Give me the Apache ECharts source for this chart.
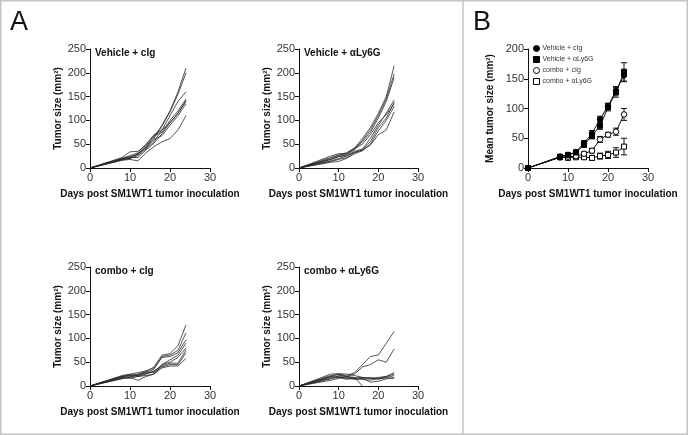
<!DOCTYPE html>
<html>
<head>
<meta charset="utf-8">
<script src="https://cdn.jsdelivr.net/npm/echarts@6/dist/echarts.min.js"></script>
<style>html,body{margin:0;padding:0;background:#fff;}#c{width:688px;height:435px;}</style>
</head>
<body>
<div id="c"></div>
<script>
// ---- data ----
const days = [0, 8, 10, 12, 14, 16, 18, 20, 22, 24];
const xTicks = [0, 10, 20, 30];
const yTicksA = [0, 50, 100, 150, 200, 250];
const yTicksB = [0, 50, 100, 150, 200];
const groupNames = ['Vehicle + cIg', 'Vehicle + \u03b1Ly6G', 'combo + cIg', 'combo + \u03b1Ly6G'];

// individual mice per group (tumor size, mm2)
const vehicleCig = [
  [0,18,22,30,45,65,90,120,160,210],
  [0,20,24,28,44,62,88,118,155,200],
  [0,17,20,26,40,55,80,110,140,160],
  [0,22,34,35,48,68,75,100,120,145],
  [0,19,22,22,38,52,72,95,115,140],
  [0,18,20,30,42,60,68,90,110,135],
  [0,16,18,15,32,45,55,62,80,110],
  [0,20,26,32,50,70,80,95,115,142]
];
const vehicleAly = [
  [0,22,28,32,42,62,85,115,150,215],
  [0,20,26,30,40,58,80,110,145,198],
  [0,18,24,28,38,55,75,105,140,190],
  [0,15,20,25,35,40,62,90,115,143],
  [0,18,24,26,33,38,55,85,105,138],
  [0,12,14,20,30,36,50,78,100,130],
  [0,14,18,22,32,38,48,70,80,118],
  [0,25,30,30,42,50,70,95,112,135]
];
const comboCig = [
  [0,20,22,25,30,40,65,68,85,128],
  [0,18,20,22,28,35,62,65,75,112],
  [0,22,25,28,32,38,60,62,70,97],
  [0,16,18,12,20,25,45,55,65,90],
  [0,20,22,20,25,32,42,48,48,76],
  [0,15,18,24,30,28,40,45,45,70],
  [0,18,16,20,22,25,38,42,42,58],
  [0,20,24,22,26,30,45,50,60,80]
];
const comboAly = [
  [0,20,25,22,28,45,62,65,90,115],
  [0,22,24,20,25,40,45,55,50,78],
  [0,25,26,25,22,18,15,18,20,28],
  [0,18,20,18,15,14,12,16,20,25],
  [0,15,22,20,16,18,16,14,18,22],
  [0,20,18,16,14,16,8,10,15,18],
  [0,12,16,20,18,0,null,null,null,null],
  [0,16,18,14,18,16,18,16,17,16]
];

// group means and SEM (panel B)
const meanVehicleCig = [0,19,22,27,42,58,82,104,130,156];
const meanVehicleAly = [0,19,22,26,39,54,71,102,127,161];
const meanComboCig   = [0,18,19,20,24,29,48,56,61,90];
const meanComboAly   = [0,18,17,18,18,17,20,22,26,36];
const semVehicleCig = [0,2,2,3,4,5,5,5,7,10];
const semVehicleAly = [0,2,2,3,4,5,6,6,8,16];
const semComboCig   = [0,2,2,3,3,4,5,4,6,10];
const semComboAly   = [0,2,2,3,3,4,5,6,8,14];

// ---- chart ----
const FONT = "'Liberation Sans', Arial, sans-serif";
const chart = echarts.init(document.getElementById('c'), null, {renderer: 'canvas'});

const grids = [
  {left: 90, top: 49, width: 120, height: 119},
  {left: 299, top: 49, width: 119, height: 119},
  {left: 90, top: 267, width: 120, height: 119},
  {left: 299, top: 267, width: 119, height: 119},
  {left: 528, top: 49, width: 120, height: 119}
];

function xAx(i) {
  return {
    type: 'value', gridIndex: i, min: xTicks[0], max: xTicks[xTicks.length - 1], interval: 10,
    name: 'Days post SM1WT1 tumor inoculation', nameLocation: 'middle', nameGap: 21,
    nameTextStyle: {fontFamily: FONT, fontSize: 10, fontWeight: 'bold', color: '#111'},
    axisLine: {lineStyle: {color: '#111', width: 1}},
    axisTick: {length: 4, lineStyle: {color: '#111'}},
    axisLabel: {fontFamily: FONT, fontSize: 11, color: '#333', margin: 4},
    splitLine: {show: false}
  };
}
function yAx(i, ticks, name, gap) {
  return {
    type: 'value', gridIndex: i, min: ticks[0], max: ticks[ticks.length - 1], interval: 50,
    name: name, nameLocation: 'middle', nameGap: gap, nameRotate: 90,
    nameTextStyle: {fontFamily: FONT, fontSize: 10, fontWeight: 'bold', color: '#111'},
    axisLine: {show: true, lineStyle: {color: '#111', width: 1}},
    axisTick: {show: true, length: 4, lineStyle: {color: '#111'}},
    axisLabel: {fontFamily: FONT, fontSize: 11, color: '#333', margin: 4},
    splitLine: {show: false}
  };
}

const series = [];
[vehicleCig, vehicleAly, comboCig, comboAly].forEach((grp, gi) => {
  grp.forEach(m => {
    series.push({
      type: 'line', xAxisIndex: gi, yAxisIndex: gi, showSymbol: false, symbol: 'none',
      silent: true, animation: false,
      lineStyle: {color: '#2a2a2a', width: 0.8},
      data: days.map((d, k) => [d, m[k]])
    });
  });
});

const meanSets = [
  {name: groupNames[0], mean: meanVehicleCig, sem: semVehicleCig, symbol: 'circle', fill: '#000'},
  {name: groupNames[1], mean: meanVehicleAly, sem: semVehicleAly, symbol: 'rect', fill: '#000'},
  {name: groupNames[2], mean: meanComboCig, sem: semComboCig, symbol: 'circle', fill: '#fff'},
  {name: groupNames[3], mean: meanComboAly, sem: semComboAly, symbol: 'rect', fill: '#fff'}
];

meanSets.forEach(s => {
  series.push({
    type: 'custom', xAxisIndex: 4, yAxisIndex: 4, silent: true, animation: false, z: 1,
    data: days.map((d, k) => [d, s.mean[k], s.sem[k]]),
    encode: {x: 0, y: 1},
    renderItem: function (params, api) {
      const x = api.value(0), m = api.value(1), e = api.value(2);
      if (!e) return null;
      const t = api.coord([x, m + e]), b = api.coord([x, m - e]);
      const hw = 3;
      const st = {stroke: '#111', lineWidth: 1};
      return {type: 'group', children: [
        {type: 'line', shape: {x1: t[0], y1: t[1], x2: b[0], y2: b[1]}, style: st},
        {type: 'line', shape: {x1: t[0] - hw, y1: t[1], x2: t[0] + hw, y2: t[1]}, style: st},
        {type: 'line', shape: {x1: b[0] - hw, y1: b[1], x2: b[0] + hw, y2: b[1]}, style: st}
      ]};
    }
  });
});
meanSets.slice().reverse().forEach(s => {
  series.push({
    name: s.name, type: 'line', xAxisIndex: 4, yAxisIndex: 4, animation: false, z: 3,
    symbol: s.symbol, symbolSize: s.symbol === 'rect' ? 5 : 5.5, showSymbol: true,
    lineStyle: {color: '#111', width: 1},
    itemStyle: {color: s.fill, borderColor: '#000', borderWidth: 1},
    data: days.map((d, k) => [d, s.mean[k]])
  });
});

const titleStyle = {fontFamily: FONT, fontSize: 10, fontWeight: 'bold', color: '#111'};
const option = {
  backgroundColor: '#fff',
  animation: false,
  grid: grids,
  xAxis: [0, 1, 2, 3, 4].map(xAx),
  yAxis: [
    yAx(0, yTicksA, 'Tumor size (mm\u00b2)', 27),
    yAx(1, yTicksA, 'Tumor size (mm\u00b2)', 27),
    yAx(2, yTicksA, 'Tumor size (mm\u00b2)', 27),
    yAx(3, yTicksA, 'Tumor size (mm\u00b2)', 27),
    yAx(4, yTicksB, 'Mean tumor size (mm\u00b2)', 33)
  ],
  title: [
    {text: groupNames[0], left: 95, top: 48, padding: 0, textStyle: titleStyle},
    {text: groupNames[1], left: 304, top: 48, padding: 0, textStyle: titleStyle},
    {text: groupNames[2], left: 95, top: 266, padding: 0, textStyle: titleStyle},
    {text: groupNames[3], left: 304, top: 266, padding: 0, textStyle: titleStyle},
    {text: 'A', left: 10, top: 9, padding: 0, textStyle: {fontFamily: FONT, fontSize: 27, fontWeight: 'normal', color: '#111'}},
    {text: 'B', left: 473, top: 9, padding: 0, textStyle: {fontFamily: FONT, fontSize: 27, fontWeight: 'normal', color: '#111'}}
  ],
  legend: {
    orient: 'vertical', left: 533, top: 45, padding: 0, itemGap: 4,
    itemWidth: 6, itemHeight: 6, selectedMode: false,
    textStyle: {fontFamily: FONT, fontSize: 7, color: '#333', padding: [0, 0, 0, -2]},
    data: [
      {name: groupNames[0], icon: 'circle', itemStyle: {color: '#000', borderColor: '#000', borderWidth: 1}},
      {name: groupNames[1], icon: 'rect', itemStyle: {color: '#000', borderColor: '#000', borderWidth: 1}},
      {name: groupNames[2], icon: 'circle', itemStyle: {color: '#fff', borderColor: '#000', borderWidth: 1}},
      {name: groupNames[3], icon: 'rect', itemStyle: {color: '#fff', borderColor: '#000', borderWidth: 1}}
    ]
  },
  graphic: [
    {type: 'rect', silent: true, shape: {x: 0.75, y: 0.75, width: 686.5, height: 433.5},
     style: {fill: 'none', stroke: '#c4c4c4', lineWidth: 1.5}},
    {type: 'line', silent: true, shape: {x1: 463, y1: 0, x2: 463, y2: 435},
     style: {stroke: '#c4c4c4', lineWidth: 1.5}}
  ],
  series: series
};
chart.setOption(option);
</script>
</body>
</html>
